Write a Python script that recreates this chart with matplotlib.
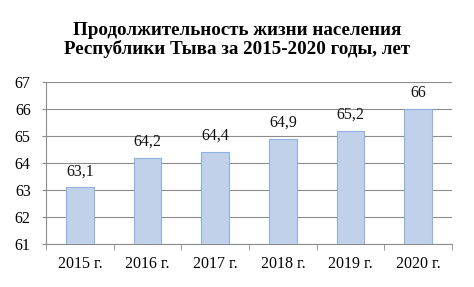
import matplotlib.pyplot as plt

years = ['2015 г.', '2016 г.', '2017 г.', '2018 г.', '2019 г.', '2020 г.']
life = [63.1, 64.2, 64.4, 64.9, 65.2, 66.0]
labels = ['63,1', '64,2', '64,4', '64,9', '65,2', '66']

plt.rcParams['font.family'] = ['Liberation Serif', 'DejaVu Serif']

fig = plt.figure(figsize=(4.74, 2.87), dpi=100)
ax = fig.add_axes([46 / 474, 1 - 244 / 287, 406 / 474, 162 / 287])

x = range(len(years))
ax.bar(x, life, width=0.41, bottom=0, color='#c1d1e9', edgecolor='#8eb0e2', linewidth=0.8, zorder=3)
for i, (v, t) in enumerate(zip(life, labels)):
    ax.text(i, v + 0.3, t, ha='center', va='bottom', fontsize=11.5, color='#111111')

ax.set_ylim(61, 67)
ax.set_xlim(-0.5, len(years) - 0.5)
ax.set_yticks(range(61, 68))
ax.set_xticks(x)
ax.set_xticklabels(years)
ax.set_xticks([i - 0.5 for i in range(len(years) + 1)], minor=True)
ax.tick_params(axis='x', which='major', length=0, pad=9, labelsize=11.5)
ax.tick_params(axis='x', which='minor', length=4, color='#8c8c8c')
ax.tick_params(axis='y', length=3, color='#8c8c8c', labelsize=11.5, pad=8)
ax.grid(axis='y', color='#8c8c8c', linewidth=0.8, zorder=0)

for s in ['top', 'right']:
    ax.spines[s].set_visible(False)
ax.spines['left'].set_color('#8c8c8c')
ax.spines['bottom'].set_color('#8c8c8c')

fig.text(0.5, 1 - 40 / 287, 'Продолжительность жизни населения\nРеспублики Тыва за 2015-2020 годы, лет',
         ha='center', va='center', fontsize=13.7, fontweight='bold', linespacing=1.1)

fig.savefig('out.png', dpi=100)
